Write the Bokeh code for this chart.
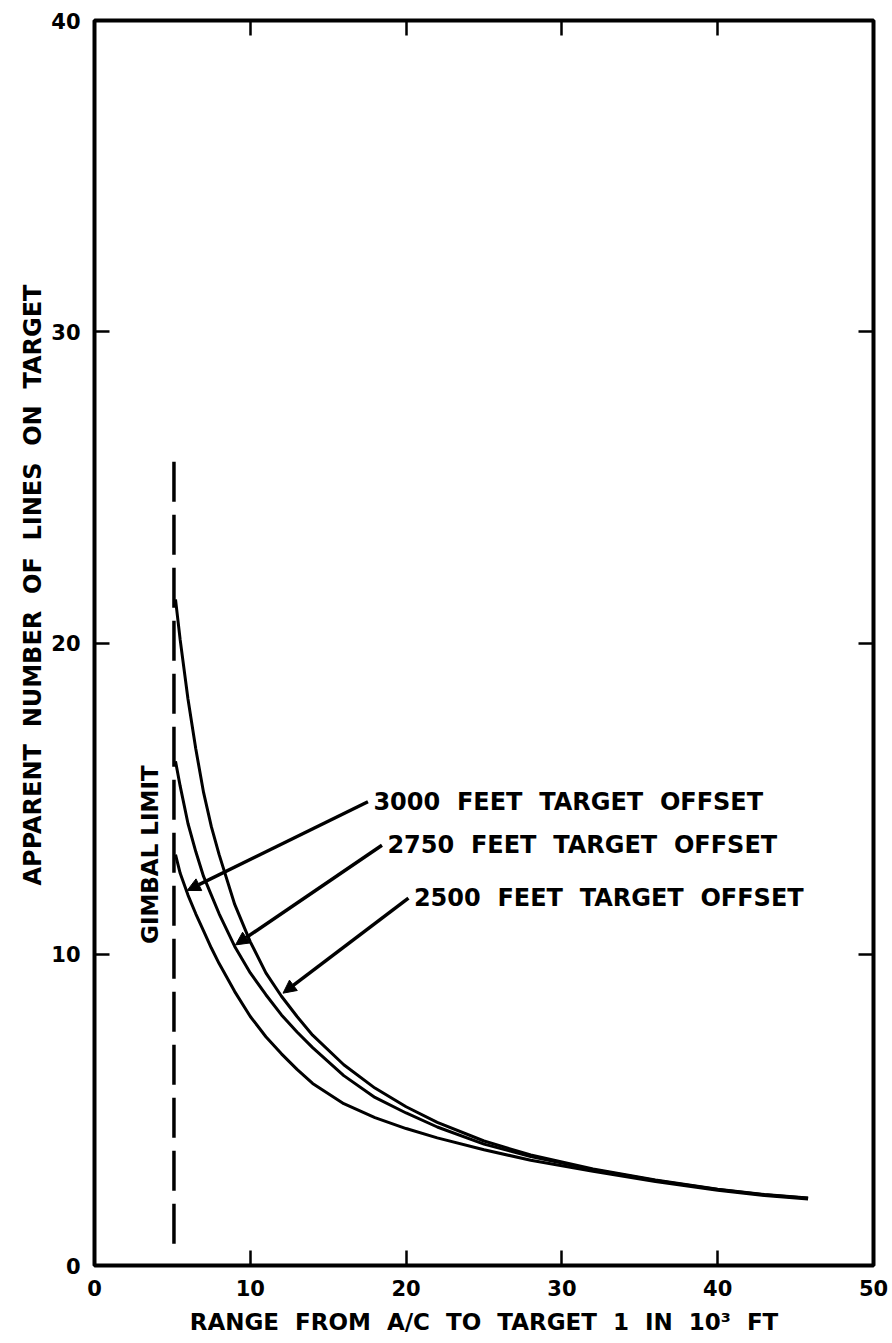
import math
from bokeh.plotting import figure
from bokeh.models import (FixedTicker, LinearAxis, Range1d, Arrow, NormalHead,
                          Title, ColumnDataSource, CustomLabelingPolicy)
from bokeh.core.properties import value
from bokeh.embed import file_html
from bokeh.resources import INLINE

# ---- data ----
range_kft = [5.2, 5.5, 6.0, 6.5, 7.0, 7.5, 8.0, 9.0, 10.0, 11.0, 12.0, 13.0,
             14.0, 16.0, 18.0, 20.0, 22.0, 25.0, 28.0, 32.0, 36.0, 40.0, 43.0, 45.8]
lines_2500 = [21.4, 20.1, 18.2, 16.6, 15.2, 14.1, 13.2, 11.6, 10.4, 9.4, 8.65, 8.0,
              7.4, 6.45, 5.7, 5.1, 4.6, 4.0, 3.55, 3.1, 2.75, 2.45, 2.28, 2.17]
lines_2750 = [16.2, 15.4, 14.2, 13.3, 12.5, 11.9, 11.3, 10.25, 9.4, 8.7, 8.05, 7.5,
              7.0, 6.1, 5.4, 4.9, 4.45, 3.9, 3.5, 3.08, 2.73, 2.44, 2.27, 2.16]
lines_3000 = [13.2, 12.6, 11.9, 11.3, 10.75, 10.2, 9.7, 8.8, 8.0, 7.35, 6.8, 6.3,
              5.85, 5.2, 4.75, 4.4, 4.1, 3.72, 3.38, 3.03, 2.7, 2.42, 2.25, 2.14]

gimbal_x = [5.1, 5.1]
gimbal_y = [0.7, 26.0]

NB = "\u00a0 "
offset_labels = ["3000" + NB + "FEET" + NB + "TARGET" + NB + "OFFSET",
                 "2750" + NB + "FEET" + NB + "TARGET" + NB + "OFFSET",
                 "2500" + NB + "FEET" + NB + "TARGET" + NB + "OFFSET"]
label_x = [17.9, 18.8, 20.5]
label_y = [14.9, 13.5, 11.8]
tip_x = [5.95, 9.05, 12.1]
tip_y = [12.05, 10.3, 8.75]

x_ticks = [0, 10, 20, 30, 40, 50]
y_ticks = [0, 10, 20, 30, 40]

x_title = NB.join(["RANGE", "FROM", "A/C", "TO", "TARGET", "1", "IN", "10³", "FT"])
y_title = NB.join(["APPARENT", "NUMBER", "OF", "LINES", "ON", "TARGET"])

FONT = "DejaVu Sans"

p = figure(frame_width=779, frame_height=1245,
           x_range=Range1d(0, 50), y_range=Range1d(0, 40),
           output_backend="svg", toolbar_location=None,
           min_border_left=94, min_border_right=19, min_border_top=20,
           min_border_bottom=40)
p.background_fill_color = "white"
p.border_fill_color = "white"
p.xgrid.visible = False
p.ygrid.visible = False
p.outline_line_color = "black"
p.outline_line_width = 4

def style_axis(ax, ticks, labels=True):
    ax.ticker = FixedTicker(ticks=ticks)
    ax.axis_line_color = None
    ax.major_tick_in = 15
    ax.major_tick_out = 0
    ax.major_tick_line_width = 2.5
    ax.major_tick_line_color = "black"
    ax.minor_tick_line_color = None
    if labels:
        ax.major_label_text_font = FONT
        ax.major_label_text_font_style = "bold"
        ax.major_label_text_font_size = "21px"
        ax.major_label_text_color = "black"
        ax.major_label_standoff = 14
    else:
        ax.major_label_policy = CustomLabelingPolicy(code="return []")
        ax.major_label_standoff = 0

style_axis(p.xaxis[0], x_ticks)
style_axis(p.yaxis[0], y_ticks)
p.xaxis[0].axis_label = x_title
p.xaxis[0].axis_label_text_font = FONT
p.xaxis[0].axis_label_text_font_style = "bold"
p.xaxis[0].axis_label_text_font_size = "23px"
p.xaxis[0].axis_label_standoff = 10
p.xaxis[0].axis_label_text_color = "black"

top_ax = LinearAxis()
style_axis(top_ax, x_ticks, labels=False)
p.add_layout(top_ax, "above")
right_ax = LinearAxis()
style_axis(right_ax, y_ticks, labels=False)
p.add_layout(right_ax, "right")

# y axis title (starts above the bottom, as in the reference)
p.add_layout(Title(text=y_title, align="left", offset=380, text_font=FONT,
                   text_font_style="bold", text_font_size="24px",
                   text_color="black", standoff=4), "left")

# curves
for ys in (lines_2500, lines_2750, lines_3000):
    p.line(range_kft, ys, line_color="black", line_width=3)

# gimbal limit
p.line(gimbal_x, gimbal_y, line_color="black", line_width=3.5, line_dash="40 13")
p.text(x=[3.55], y=[13.2], text=["GIMBAL LIMIT"], angle=math.pi / 2,
       text_align="center", text_baseline="middle", text_font=value(FONT),
       text_font_style="bold", text_font_size="23px", text_color="black")

# labels with arrows
src = ColumnDataSource(dict(lx=label_x, ly=label_y, tx=tip_x, ty=tip_y,
                            sx=[v - 0.35 for v in label_x], txt=offset_labels))
p.text(x="lx", y="ly", text="txt", source=src, text_align="left",
       text_baseline="middle", text_font=value(FONT), text_font_style="bold",
       text_font_size="24px", text_color="black")
p.add_layout(Arrow(end=NormalHead(size=13, fill_color="black", line_color="black",
                                  line_width=1),
                   x_start="sx", y_start="ly", x_end="tx", y_end="ty",
                   line_width=3.5, line_color="black", source=src))

open("out.html", "w").write(file_html(p, INLINE))
